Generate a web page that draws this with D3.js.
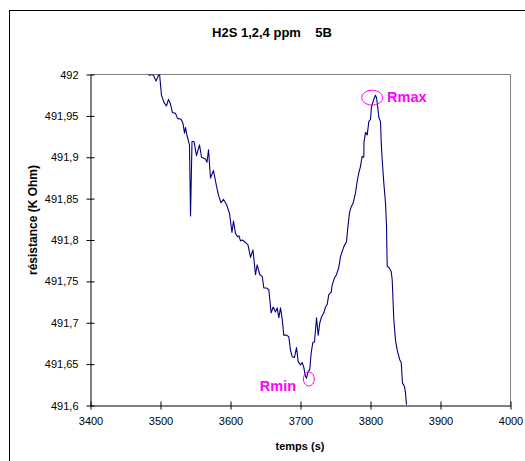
<!DOCTYPE html>
<html>
<head>
<meta charset="utf-8">
<script src="https://cdn.jsdelivr.net/npm/d3@7"></script>
<style>
  html, body { margin: 0; padding: 0; background: #fff; }
  svg { display: block; }
  text { font-family: Arial, "Liberation Sans", sans-serif; }
</style>
</head>
<body>
<script>
// ---- data ----
const chartTitle = "H2S 1,2,4 ppm    5B";
const xTitle = "temps (s)";
const yTitle = "résistance (K Ohm)";
const xTickValues = [3400, 3500, 3600, 3700, 3800, 3900, 4000];
const yTickValues = [491.6, 491.65, 491.7, 491.75, 491.8, 491.85, 491.9, 491.95, 492];
const yTickLabels = ["491,6", "491,65", "491,7", "491,75", "491,8", "491,85", "491,9", "491,95", "492"];

const times = [3481.4, 3484.3, 3487.1, 3490, 3493.6, 3497.1, 3498.6, 3501.4, 3505, 3508.6,
  3511.4, 3514.3, 3517.1, 3521.4, 3524.3, 3529.3, 3532.1, 3534.3, 3535.7, 3537.9,
  3541.4, 3542.9, 3545, 3547.9, 3551.4, 3555.7, 3558.6, 3564.3, 3566.4, 3568.6,
  3571.4, 3575.7, 3580, 3582.9, 3586.4, 3590, 3594.3, 3598.6, 3602.1, 3604.3,
  3607.1, 3610, 3612.1, 3614.3, 3617.1, 3621.4, 3625, 3628.6, 3632.1, 3635.7,
  3638.1, 3641.9, 3645.3, 3647.6, 3651.4, 3654.7, 3658.1, 3661, 3664.3, 3666.7,
  3669, 3671.4, 3673.9, 3676.1, 3680, 3683.3, 3685.7, 3688.1, 3691.4, 3694.3,
  3696.7, 3700, 3702.4, 3704.7, 3707.1, 3708.6, 3710.4, 3713.3, 3715.3, 3717.6,
  3720, 3722.9, 3725.3, 3727.6, 3730, 3733.3, 3735.7, 3738.1, 3740.4, 3743.9,
  3745.3, 3748.6, 3751.4, 3754.7, 3757.1, 3759.6, 3761.9, 3765.7, 3767.6, 3770,
  3772.4, 3775.3, 3778.6, 3781, 3783.3, 3785.7, 3788.1, 3790.4, 3790.7, 3792.9,
  3795.3, 3797.6, 3800, 3801.4, 3804.7, 3807.1, 3808.6, 3810.4, 3811.9, 3814.3,
  3815.3, 3816.7, 3819, 3821.4, 3822.9, 3823.6, 3823.9, 3826.1, 3829.6, 3831,
  3833.3, 3835.7, 3838.1, 3841.9, 3843.9, 3845.7, 3848.6, 3850, 3851.4];

const resistance = [492.001, 491.999, 492.0, 491.999, 491.992, 491.999, 492.001, 491.975, 491.966, 491.962,
  491.970, 491.964, 491.954, 491.953, 491.947, 491.946, 491.941, 491.929, 491.936, 491.926,
  491.915, 491.829, 491.919, 491.919, 491.902, 491.915, 491.900, 491.898, 491.894, 491.909,
  491.875, 491.884, 491.865, 491.854, 491.845, 491.849, 491.843, 491.832, 491.809, 491.823,
  491.808, 491.804, 491.805, 491.799, 491.800, 491.797, 491.794, 491.779, 491.788, 491.758,
  491.770, 491.758, 491.756, 491.742, 491.742, 491.740, 491.712, 491.719, 491.713, 491.718,
  491.706, 491.718, 491.704, 491.685, 491.685, 491.683, 491.667, 491.659, 491.658, 491.670,
  491.653, 491.649, 491.652, 491.646, 491.635, 491.633, 491.640, 491.644, 491.664, 491.676,
  491.677, 491.706, 491.685, 491.700, 491.707, 491.712, 491.719, 491.722, 491.734, 491.737,
  491.746, 491.754, 491.758, 491.767, 491.780, 491.786, 491.792, 491.798, 491.815, 491.833,
  491.840, 491.845, 491.857, 491.871, 491.881, 491.889, 491.901, 491.900, 491.918, 491.930,
  491.927, 491.943, 491.946, 491.961, 491.970, 491.975, 491.972, 491.960, 491.948, 491.943,
  491.918, 491.897, 491.869, 491.845, 491.816, 491.779, 491.768, 491.767, 491.762, 491.752,
  491.704, 491.679, 491.667, 491.655, 491.652, 491.627, 491.623, 491.615, 491.601];

// annotations: label, ellipse centre (t, R), text anchor point (t, R)
const annotationLabels = ["Rmax", "Rmin"];
const annotationCentreT = [3802.4, 3711.9];
const annotationCentreR = [491.972, 491.632];
const annotationTextT = [3823.6, 3641.9];
const annotationTextR = [491.967, 491.617];

// ---- drawing ----
const W = 525, H = 461;
const svg = d3.select("body").append("svg").attr("width", W).attr("height", H);

// outer chart frame (extends beyond the picture on right / bottom)
svg.append("rect").attr("x", 9.5).attr("y", 10.5).attr("width", 600).attr("height", 600)
  .attr("fill", "#fff").attr("stroke", "#000").attr("stroke-width", 1);

const x = d3.scaleLinear().domain([3400, 4000]).range([90.5, 510.5]);
const y = d3.scaleLinear().domain([491.6, 492]).range([405.5, 74.5]);

// plot area border (grey top/right)
svg.append("path")
  .attr("d", `M${x(3400)},${y(492)}H${x(4000)}V${y(491.6)}`)
  .attr("fill", "none").attr("stroke", "#808080").attr("stroke-width", 1);

// clip
svg.append("clipPath").attr("id", "clip").append("rect")
  .attr("x", x(3400)).attr("y", y(492)).attr("width", x(4000) - x(3400)).attr("height", y(491.6) - y(492));

// line
const pts = times.map((t, i) => [t, resistance[i]]);
svg.append("path")
  .datum(pts)
  .attr("clip-path", "url(#clip)")
  .attr("fill", "none")
  .attr("stroke", "#000080")
  .attr("stroke-width", 1.1)
  .attr("stroke-linejoin", "round")
  .attr("d", d3.line().x(d => x(d[0])).y(d => y(d[1])));

// axes
const xAxis = d3.axisBottom(x).tickValues(xTickValues).tickFormat(d3.format("d"))
  .tickSizeInner(4).tickSizeOuter(0).tickPadding(8);
const gx = svg.append("g").attr("transform", `translate(0,${y(491.6)})`).call(xAxis);
gx.selectAll("line").attr("y1", -4);

const yAxis = d3.axisLeft(y).tickValues(yTickValues).tickFormat((d, i) => yTickLabels[i])
  .tickSizeInner(4).tickSizeOuter(0).tickPadding(8);
const gy = svg.append("g").attr("transform", `translate(${x(3400)},0)`).call(yAxis);
gy.selectAll("line").attr("x1", 4);

[gx, gy].forEach(g => {
  g.select(".domain").attr("stroke", "#000");
  g.selectAll("line").attr("stroke", "#000");
  g.selectAll("text").attr("font-size", 11).attr("fill", "#000")
    .attr("font-family", "Arial, 'Liberation Sans', sans-serif");
});

// titles
svg.append("text").attr("x", 272).attr("y", 37).attr("text-anchor", "middle")
  .attr("font-size", 13).attr("font-weight", "bold").style("white-space", "pre")
  .text(chartTitle);
svg.append("text").attr("x", 300).attr("y", 450).attr("text-anchor", "middle")
  .attr("font-size", 11).attr("font-weight", "bold").text(xTitle);
svg.append("text").attr("transform", "translate(37,220) rotate(-90)").attr("text-anchor", "middle")
  .attr("font-size", 12).attr("font-weight", "bold").text(yTitle);

// annotations
const radii = [[10.5, 7.5], [5.5, 7]];
annotationLabels.forEach((lab, i) => {
  svg.append("ellipse")
    .attr("cx", x(annotationCentreT[i])).attr("cy", y(annotationCentreR[i]))
    .attr("rx", radii[i][0]).attr("ry", radii[i][1])
    .attr("fill", "none").attr("stroke", "#ff00ff").attr("stroke-width", 1);
  svg.append("text")
    .attr("x", x(annotationTextT[i])).attr("y", y(annotationTextR[i]))
    .attr("font-size", 14.5).attr("font-weight", "bold").attr("fill", "#ff00ff")
    .text(lab);
});
</script>
</body>
</html>
